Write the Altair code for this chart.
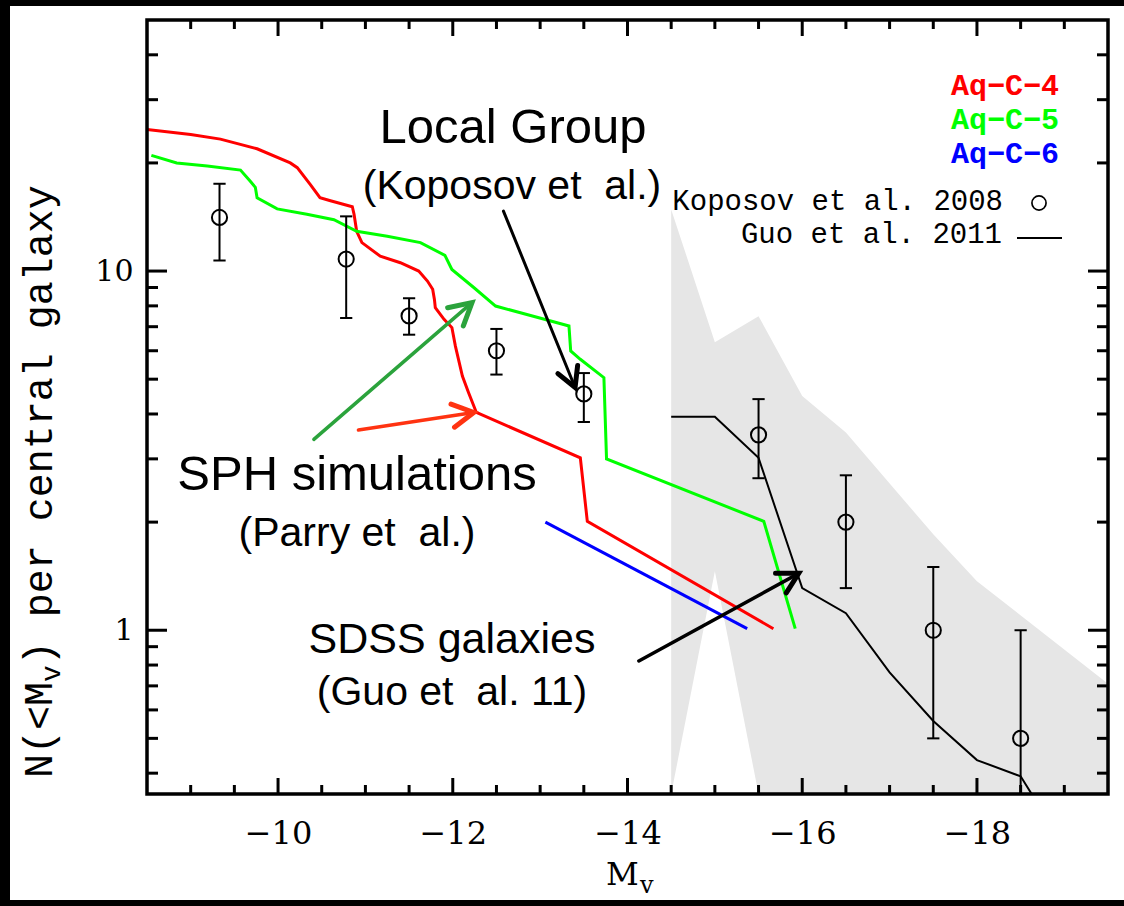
import altair as alt
import pandas as pd

# ---------------- data ----------------
red_M = [-8.5, -9.0, -9.34, -9.76, -10.14, -10.22, -10.37, -10.48, -10.60, -10.85, -10.87, -10.90,
         -10.96, -11.17, -11.40, -11.61, -11.71, -11.77, -11.79, -11.80, -11.90, -11.99, -12.03,
         -12.11, -12.18, -12.27, -13.46, -13.54, -15.67]
red_N = [24.8, 24.0, 23.3, 21.9, 20.0, 19.4, 17.4, 16.0, 15.7, 15.1, 14.4, 12.9,
         12.0, 11.0, 10.55, 10.0, 9.38, 8.9, 8.34, 7.91, 7.34, 6.96, 6.18,
         5.10, 4.59, 4.04, 3.02, 2.01, 1.01]

green_M = [-8.55, -8.84, -9.19, -9.57, -9.68, -9.74, -9.76, -9.99, -10.33, -10.64, -10.90, -11.25,
           -11.63, -11.91, -11.99, -12.24, -12.49, -13.08, -13.33, -13.35, -13.46, -13.73, -13.76,
           -15.56, -15.92]
green_N = [21.0, 20.0, 19.6, 19.1, 17.8, 17.1, 16.0, 14.9, 14.4, 13.9, 12.9, 12.5,
           12.0, 11.06, 10.1, 9.0, 7.99, 7.31, 7.03, 5.99, 5.68, 5.05, 3.0,
           2.01, 1.01]

blue_M = [-13.06, -15.37]
blue_N = [2.0, 1.01]

guo_M = [-14.5, -15.0, -15.5, -16.0, -16.5, -17.0, -17.5, -18.0, -18.5, -19.0]
guo_N = [3.93, 3.93, 3.02, 1.31, 1.115, 0.763, 0.559, 0.435, 0.392, 0.25]

kop_M = [-9.33, -10.78, -11.5, -12.5, -13.5, -15.5, -16.5, -17.5, -18.5]
kop_N = [14.1, 10.8, 7.5, 6.0, 4.55, 3.5, 2.0, 1.0, 0.5]
kop_hi = [17.5, 14.2, 8.4, 6.9, 5.2, 4.4, 2.7, 1.5, 1.0]
kop_lo = [10.7, 7.4, 6.65, 5.15, 3.8, 2.65, 1.31, 0.5, 0.3]

shade_M = [-14.5, -15.0, -15.5, -16.0, -16.5, -17.5, -18.0, -19.5]
shade_hi = [14.85, 6.34, 7.49, 4.49, 3.55, 1.85, 1.37, 0.71]
shade_lo = [0.35, 1.46, 0.35, 0.3, 0.3, 0.3, 0.3, 0.3]

x_major = [-10, -12, -14, -16, -18]
x_minor = [-9.0, -9.5, -10.5, -11.0, -11.5, -12.5, -13.0, -13.5, -14.5, -15.0, -15.5,
           -16.5, -17.0, -17.5, -18.5, -19.0]
y_major = [1, 10]
y_minor = [0.4, 0.5, 0.6, 0.7, 0.8, 0.9, 2, 3, 4, 5, 6, 7, 8, 9, 20, 30, 40]

# annotation arrows: start (M1, N1) -> tip (M2, N2)
arr_M1 = [-12.58, -10.41, -10.92, -14.13]
arr_N1 = [14.69, 3.40, 3.61, 0.821]
arr_M2 = [-13.40, -12.22, -12.24, -15.96]
arr_N2 = [4.74, 8.17, 4.04, 1.44]

# ---------------- layout ----------------
W, H = 961, 774
PADL, PADT = 147, 20

xscale = alt.Scale(domain=[-19.5, -8.5], reverse=True, nice=False, zero=False)
yscale = alt.Scale(type="log", domain=[0.35, 50], nice=False)
xaxis = alt.Axis(values=x_major, format="d", ticks=False, domain=False, grid=False,
                 labelFont="DejaVu Serif", labelFontSize=32, labelPadding=24,
                 labelColor="black", labelOverlap=False, labelFlush=False, zindex=1)
yaxis = alt.Axis(values=y_major, format="d", ticks=False, domain=False, grid=False,
                 labelFont="DejaVu Serif", labelFontSize=30, labelPadding=14,
                 labelColor="black", labelOverlap=False, labelFlush=False, zindex=1)


def X(f):
    return alt.X(f"{f}:Q", scale=xscale, axis=xaxis, title=None)


def Y(f):
    return alt.Y(f"{f}:Q", scale=yscale, axis=yaxis, title=None)


one = pd.DataFrame({"_": [0]})
layers = []

# white page inside the black frame
layers.append(alt.Chart(one).mark_rect(color="white").encode(
    x=alt.value(10 - PADL), x2=alt.value(1124 - PADL),
    y=alt.value(6 - PADT), y2=alt.value(900 - PADT)))

# gray band
shade = pd.DataFrame({"M": shade_M, "hi": shade_hi, "lo": shade_lo})
layers.append(alt.Chart(shade).mark_area(color="#e6e6e6", clip=True).encode(
    x=X("M"), y=Y("hi"), y2=alt.Y2("lo:Q")))


def line(M, N, color, width):
    df = pd.DataFrame({"M": M, "N": N, "i": list(range(len(M)))})
    return alt.Chart(df).mark_line(color=color, strokeWidth=width, clip=True).encode(
        x=X("M"), y=Y("N"), order="i:Q")


layers.append(line(guo_M, guo_N, "black", 2))
layers.append(line(blue_M, blue_N, "#0000ff", 3))
layers.append(line(red_M, red_N, "#ff0000", 3))
layers.append(line(green_M, green_N, "#00ff00", 3))

# Koposov points with error bars
kop = pd.DataFrame({"M": kop_M, "N": kop_N, "hi": kop_hi, "lo": kop_lo})
layers.append(alt.Chart(kop).mark_rule(color="black", strokeWidth=2, clip=True).encode(
    x=X("M"), y=Y("lo"), y2=alt.Y2("hi:Q")))
for col in ["hi", "lo"]:
    layers.append(alt.Chart(kop).mark_point(shape="M-1,0L1,0", filled=False, size=150,
                                            strokeWidth=2, color="black", opacity=1,
                                            clip=True).encode(x=X("M"), y=Y(col)))
layers.append(alt.Chart(kop).mark_point(shape="circle", filled=False, size=230, strokeWidth=2,
                                        color="black", opacity=1, clip=True).encode(
    x=X("M"), y=Y("N")))

# arrows
CHEVRON = "M-0.55,1L0,0L0.55,1"
arrow_style = [("black", 3, 5, 157.8, 1500),
               ("#2ba33c", 3.5, 5, 49.2, 1900),
               ("#ff3311", 3.5, 5, 81.4, 1800),
               ("black", 3.5, 5, 61.3, 1650)]
for k, (col, sw, hw, ang, hs) in enumerate(arrow_style):
    a = pd.DataFrame({"M1": [arr_M1[k]], "N1": [arr_N1[k]], "M2": [arr_M2[k]], "N2": [arr_N2[k]]})
    layers.append(alt.Chart(a).mark_rule(color=col, strokeWidth=sw, strokeCap="round").encode(
        x=X("M1"), x2=alt.X2("M2:Q"), y=Y("N1"), y2=alt.Y2("N2:Q")))
    layers.append(alt.Chart(a).mark_point(shape=CHEVRON, filled=False, size=hs, strokeWidth=hw,
                                          angle=ang, color=col, opacity=1,
                                          strokeCap="round").encode(x=X("M2"), y=Y("N2")))

# inward ticks on all four sides
def xticks(vals, length):
    df = pd.DataFrame({"v": vals})
    b = alt.Chart(df).mark_rule(color="black", strokeWidth=3).encode(
        x=X("v"), y=alt.value(H), y2=alt.value(H - length))
    t = alt.Chart(df).mark_rule(color="black", strokeWidth=3).encode(
        x=X("v"), y=alt.value(0), y2=alt.value(length))
    return [b, t]


def yticks(vals, length):
    df = pd.DataFrame({"v": vals})
    l = alt.Chart(df).mark_rule(color="black", strokeWidth=3).encode(
        y=Y("v"), x=alt.value(0), x2=alt.value(length))
    r = alt.Chart(df).mark_rule(color="black", strokeWidth=3).encode(
        y=Y("v"), x=alt.value(W), x2=alt.value(W - length))
    return [l, r]


layers += xticks(x_major, 16) + xticks(x_minor, 9) + yticks(y_major, 20) + yticks(y_minor, 11)

# frame
layers.append(alt.Chart(one).mark_rect(filled=False, color="black", strokeWidth=3.5).encode(
    x=alt.value(0), x2=alt.value(W), y=alt.value(0), y2=alt.value(H)))


def txt(s, x, y, size, font, color="black", align="center", weight="normal", angle=0):
    return alt.Chart(one).mark_text(align=align, baseline="alphabetic", font=font,
                                    fontSize=size, fontWeight=weight, color=color,
                                    angle=angle).encode(
        x=alt.value(x - PADL), y=alt.value(y - PADT), text=alt.value(s))


SANS = "Liberation Sans"
MONO = "Liberation Mono"
NB = "\u00a0"
layers += [
    txt("Local Group", 513, 143, 49, SANS),
    txt(f"(Koposov et{NB} al.)", 512, 199, 41, SANS),
    txt("SPH simulations", 357, 490, 49, SANS),
    txt(f"(Parry et{NB} al.)", 357, 546, 41, SANS),
    txt("SDSS galaxies", 452, 653, 43, SANS),
    txt(f"(Guo et{NB} al. 11)", 452, 705, 41, SANS),
    txt("Aq\u2212C\u22124", 1059, 95, 30, MONO, "#ff0000", "right", "bold"),
    txt("Aq\u2212C\u22125", 1059, 129, 30, MONO, "#00ff00", "right", "bold"),
    txt("Aq\u2212C\u22126", 1059, 163, 30, MONO, "#0000ff", "right", "bold"),
    txt("Koposov et al. 2008", 1003, 210, 29, MONO, align="right"),
    txt("Guo et al. 2011", 1002, 243, 29, MONO, align="right"),
    # x title M_v
    txt("M", 606, 885, 32, "DejaVu Serif", align="left"),
    txt("v", 640, 893, 24, "DejaVu Serif", align="left"),
]

# y title: N(<M_v) per central galaxy, rotated
TF = 40
y0 = 778
layers += [
    txt("N(<M", 52, y0, TF, MONO, align="left", angle=270),
    txt("v", 60, y0 - 4 * 0.6 * TF, 28, MONO, align="left", angle=270),
    txt(") per central galaxy", 52, y0 - 4 * 0.6 * TF - 0.6 * 28, TF, MONO, align="left", angle=270),
]

# legend glyphs
layers.append(alt.Chart(one).mark_point(shape="circle", filled=False, size=200, strokeWidth=1.7,
                                        color="black", opacity=1).encode(
    x=alt.value(1039 - PADL), y=alt.value(203 - PADT)))
layers.append(alt.Chart(one).mark_rule(color="black", strokeWidth=2).encode(
    x=alt.value(1017 - PADL), x2=alt.value(1062 - PADL), y=alt.value(238 - PADT)))

chart = alt.layer(*layers).properties(
    width=W, height=H, background="black",
    padding={"left": PADL, "top": PADT, "right": 1124 - PADL - W, "bottom": 906 - PADT - H},
    autosize=alt.AutoSizeParams(type="none"),
).configure_view(strokeWidth=0)

chart.save("out.html", embed_options={"renderer": "svg", "actions": False})
